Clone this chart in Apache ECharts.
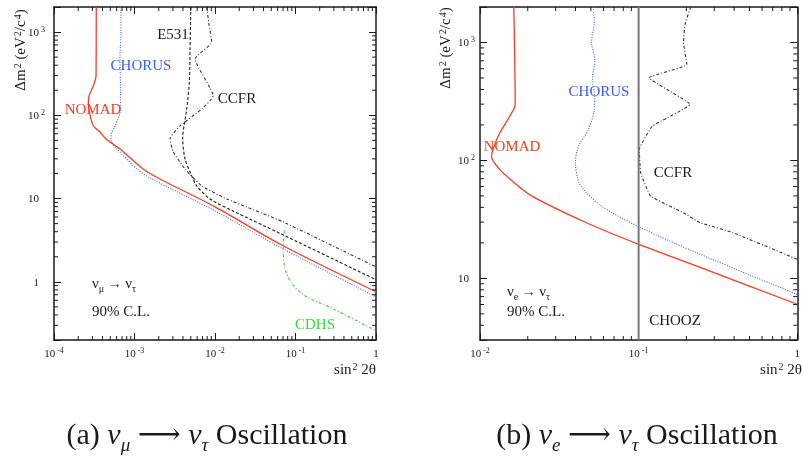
<!DOCTYPE html>
<html><head><meta charset="utf-8">
<script src="https://cdn.jsdelivr.net/npm/echarts@6/dist/echarts.min.js"></script>
<style>html,body{margin:0;padding:0;background:#fff}#c{width:803px;height:457px}</style>
</head><body><div id="c"></div>
<script>
// ---------- data (sin^2 2theta, delta m^2) ----------
// panel (a): nu_mu -> nu_tau
const nomadA = [[3.35e-4,2000],[3.33e-4,300],[3.08e-4,225],[2.72e-4,170],[2.67e-4,137],[2.75e-4,110],[3.08e-4,75],[3.72e-4,63],[4.43e-4,52],[6.6e-4,39.5],[1.28e-3,22.7],[2.07e-3,17.2],[0.01,7.95],[0.07,2.71],[1,0.76]];
const chorusA = [[6.75e-4,2000],[6.8e-4,1000],[6.6e-4,500],[6.7e-4,200],[6.6e-4,110],[5.73e-4,74.6],[5.1e-4,56.6],[5.2e-4,48],[6.07e-4,39.5],[1.07e-3,22.7],[1.56e-3,17.7],[0.01,7.1],[0.07,2.49],[1,0.66]];
const e531A = [[5.0e-3,2000],[4.9e-3,627],[4.8e-3,252],[4.45e-3,119],[3.97e-3,52],[4.24e-3,30],[4.9e-3,20.9],[5.93e-3,14.2],[8.67e-3,9.9],[0.0167,7.1],[0.07,3.67],[1,1.06]];
const ccfrA = [[7.9e-3,2000],[8.4e-3,1250],[9.1e-3,760],[5.65e-3,475],[9.5e-3,171],[6.84e-3,119],[3.67e-3,74.6],[2.76e-3,52],[3.03e-3,36.4],[4.24e-3,22.7],[6.84e-3,14.2],[0.014,9.9],[0.07,5.25],[1,1.51]];
const cdhsA = [[0.0726,4.13],[0.0705,2.49],[0.074,1.43],[0.0906,0.946],[0.131,0.68],[0.292,0.474],[1,0.258]];
// panel (b): nu_e -> nu_tau
const nomadB = [[0.01633,2000],[0.01667,298.5],[0.01535,236],[0.0130,160],[0.01183,108],[0.0133,84],[0.0161,66.4],[0.0214,49.5],[0.0461,29.9],[0.1004,19.4],[0.244,12.4],[1,6.03]];
const chorusB = [[0.0518,2000],[0.0525,1500],[0.0505,1000],[0.053,700],[0.0512,500],[0.0528,350],[0.0525,270],[0.0482,183],[0.0418,131.5],[0.0399,96],[0.0418,66.4],[0.0449,56.8],[0.0583,41],[0.0986,27.7],[0.244,16],[1,7.3]];
const ccfrB = [[0.213,2000],[0.196,1422],[0.192,1000],[0.2015,651],[0.1164,502],[0.211,298.5],[0.122,195],[0.101,124],[0.103,78.7],[0.119,49.8],[0.192,36],[0.244,29.7],[0.393,24.4],[1,14.5]];
const choozB = [[0.1,3],[0.1,2000]];
// axis ranges
const xRangeA = [1e-4, 1], yRangeA = [0.2, 2000];
const xRangeB = [1e-2, 1], yRangeB = [3, 2000];
const minorMultipliers = [2,3,4,5,6,7,8,9];

const SERIF = "'Liberation Serif','DejaVu Serif',serif";
const INK = '#1a1a1a';

function minors(r){
  const out=[];
  for(let d=Math.floor(Math.log10(r[0])); d<Math.ceil(Math.log10(r[1])); d++){
    minorMultipliers.forEach(m=>{const v=m*Math.pow(10,d); if(v>r[0]*1.0001 && v<r[1]*0.9999) out.push(v);});
  }
  return out;
}
function xLabel(v){
  const l=Math.log10(v), e=Math.round(l);
  if(Math.abs(l-e)>1e-6) return '';
  if(e===0) return '{b|1}';
  if(e===1) return '{b|10}';
  return '{b|10}{s|'+e+'}';
}
function yLabel(v){
  const l=Math.log10(v), e=Math.round(l);
  if(Math.abs(l-e)>1e-6) return '';
  if(e===0) return '{b|1}{p| }';
  if(e===1) return '{b|10}{p| }';
  return '{b|10}{s|'+e+'}';
}
const labelRich = {
  b:{fontFamily:SERIF,fontSize:11,lineHeight:13,verticalAlign:'bottom',color:INK},
  s:{fontFamily:SERIF,fontSize:8,lineHeight:9,padding:[0,0,10,2],verticalAlign:'top',color:INK},
  p:{fontFamily:SERIF,fontSize:8,width:6}
};
function xAx(grid, r, pos, show){
  return {gridIndex:grid,type:'log',logBase:10,min:r[0],max:r[1],position:pos,
    axisLine:{show:true,lineStyle:{color:INK,width:1.5}},
    axisTick:{show:true,inside:true,length:7,lineStyle:{color:INK,width:1}},
    minorTick:{show:false},splitLine:{show:false},
    axisLabel:{show:show,margin:7,formatter:xLabel,rich:labelRich,showMinLabel:true,showMaxLabel:true}};
}
function yAx(grid, r, pos, show, margin){
  return {gridIndex:grid,type:'log',logBase:10,min:r[0],max:r[1],position:pos,
    axisLine:{show:true,lineStyle:{color:INK,width:1.5}},
    axisTick:{show:true,inside:true,length:7,lineStyle:{color:INK,width:1}},
    minorTick:{show:false},splitLine:{show:false},
    axisLabel:{show:show,margin:margin,formatter:yLabel,rich:labelRich}};
}
function minorTickSeries(xi, yi, xr, yr){
  const data = minors(xr).map(v=>[v,yr[0],0]).concat(minors(yr).map(v=>[xr[0],v,1]));
  return {type:'custom',xAxisIndex:xi,yAxisIndex:yi,silent:true,clip:false,data:data,z:5,
    renderItem:function(params, api){
      const kind=api.value(2), L=4, st={stroke:INK,lineWidth:1};
      if(kind===0){
        const v=api.value(0), b=api.coord([v,yr[0]]), t=api.coord([v,yr[1]]);
        return {type:'group',children:[
          {type:'line',shape:{x1:b[0],y1:b[1],x2:b[0],y2:b[1]-L},style:st},
          {type:'line',shape:{x1:t[0],y1:t[1],x2:t[0],y2:t[1]+L},style:st}]};
      } else {
        const v=api.value(1), l=api.coord([xr[0],v]), r=api.coord([xr[1],v]);
        return {type:'group',children:[
          {type:'line',shape:{x1:l[0],y1:l[1],x2:l[0]+L,y2:l[1]},style:st},
          {type:'line',shape:{x1:r[0],y1:r[1],x2:r[0]-L,y2:r[1]},style:st}]};
      }
    }};
}
function curve(name, xi, yi, data, color, type, width, smooth){
  return {name:name,type:'line',xAxisIndex:xi,yAxisIndex:yi,data:data,symbol:'none',showSymbol:false,
    smooth:smooth,lineStyle:{color:color,type:type,width:width},silent:true,animation:false,z:3};
}
const RED='#ff3a1c', BLUE='#3a5cff', GREEN='#33dd33';

function txt(x,y,text,color,align,extra){
  return Object.assign({type:'text',x:x,y:y,silent:true,style:{text:text,fill:color,fontFamily:SERIF,fontSize:15,align:align||'center',verticalAlign:'middle'}},extra||{});
}
function richTxt(x,y,text,rich,align,rot){
  return {type:'text',x:x,y:y,rotation:rot||0,silent:true,style:{text:text,rich:rich,align:align||'left',verticalAlign:'middle',fill:INK,fontFamily:SERIF}};
}
const nuRich = {
  n:{fontFamily:SERIF,fontSize:15,lineHeight:16,verticalAlign:'top',color:INK},
  a:{fontFamily:SERIF,fontSize:14,lineHeight:16,verticalAlign:'top',color:INK},
  d:{fontFamily:SERIF,fontSize:10,lineHeight:10,padding:[7,0,0,0],verticalAlign:'top',color:INK}
};
const titleRich = {
  t:{fontFamily:SERIF,fontSize:15,lineHeight:16,verticalAlign:'bottom',color:INK},
  u:{fontFamily:SERIF,fontSize:10,lineHeight:10,padding:[0,0,9,1],verticalAlign:'top',color:INK}
};
const capRich = {
  r:{fontFamily:SERIF,fontSize:30,lineHeight:32,verticalAlign:'top',color:'#000'},
  i:{fontFamily:SERIF,fontSize:30,fontStyle:'italic',lineHeight:32,verticalAlign:'top',color:'#000'},
  d:{fontFamily:SERIF,fontSize:19,fontStyle:'italic',lineHeight:19,padding:[15,0,0,0],verticalAlign:'top',color:'#000'}
};

const chart = echarts.init(document.getElementById('c'), null, {renderer:'canvas'});
chart.setOption({
  animation:false,
  backgroundColor:'#fff',
  grid:[{left:54,top:7,width:322,height:333},{left:480,top:7,width:322,height:333}],
  xAxis:[xAx(0,xRangeA,'bottom',true),xAx(0,xRangeA,'top',false),xAx(1,xRangeB,'bottom',true),xAx(1,xRangeB,'top',false)],
  yAxis:[yAx(0,yRangeA,'left',true,9),yAx(0,yRangeA,'right',false,0),yAx(1,yRangeB,'left',true,5),yAx(1,yRangeB,'right',false,0)],
  series:[
    minorTickSeries(0,0,xRangeA,yRangeA),
    minorTickSeries(2,2,xRangeB,yRangeB),
    curve('NOMAD',0,0,nomadA,RED,'solid',1.3,0.3),
    curve('CHORUS',0,0,chorusA,BLUE,[1,1.5],1.1,0.3),
    curve('E531',0,0,e531A,INK,[3,2],1.1,0.3),
    curve('CCFR',0,0,ccfrA,'#333',[3,2,1,2],1.1,0.15),
    curve('CDHS',0,0,cdhsA,GREEN,[3,2,1,2],1.2,0.3),
    curve('NOMAD',2,2,nomadB,RED,'solid',1.3,0.3),
    curve('CHORUS',2,2,chorusB,BLUE,[1,1.5],1.1,0.3),
    curve('CCFR',2,2,ccfrB,'#333',[3,2,1,2],1.1,0.1),
    curve('CHOOZ',2,2,choozB,'#777','solid',2,false)
  ],
  graphic:[
    txt(173,35,'E531',INK),
    txt(141,66,'CHORUS',BLUE),
    txt(237,99,'CCFR',INK),
    txt(93,110,'NOMAD',RED),
    txt(315,325,'CDHS',GREEN),
    richTxt(92,285,'{n|ν}{d|μ}{a| → }{n|ν}{d|τ}',nuRich),
    txt(92,312,'90% C.L.',INK,'left'),
    richTxt(21,50,'{t|Δm}{u|2}{t| (eV}{u|2}{t|/c}{u|4}{t|)}',titleRich,'center',Math.PI/2),
    richTxt(376,370,'{t|sin}{u|2}{t| 2θ}',titleRich,'right'),
    txt(599,92,'CHORUS',BLUE),
    txt(512,147,'NOMAD',RED),
    txt(673,173,'CCFR',INK),
    txt(675,321,'CHOOZ',INK),
    richTxt(507,293,'{n|ν}{d|e}{a| → }{n|ν}{d|τ}',nuRich),
    txt(507,312,'90% C.L.',INK,'left'),
    richTxt(446,48,'{t|Δm}{u|2}{t| (eV}{u|2}{t|/c}{u|4}{t|)}',titleRich,'center',Math.PI/2),
    richTxt(802,370,'{t|sin}{u|2}{t| 2θ}',titleRich,'right'),
    richTxt(207,437,'{r|(a) }{i|ν}{d|μ}{r| ⟶ }{i|ν}{d|τ}{r| Oscillation}',capRich,'center'),
    richTxt(637,437,'{r|(b) }{i|ν}{d|e}{r| ⟶ }{i|ν}{d|τ}{r| Oscillation}',capRich,'center')
  ]
});
</script></body></html>
